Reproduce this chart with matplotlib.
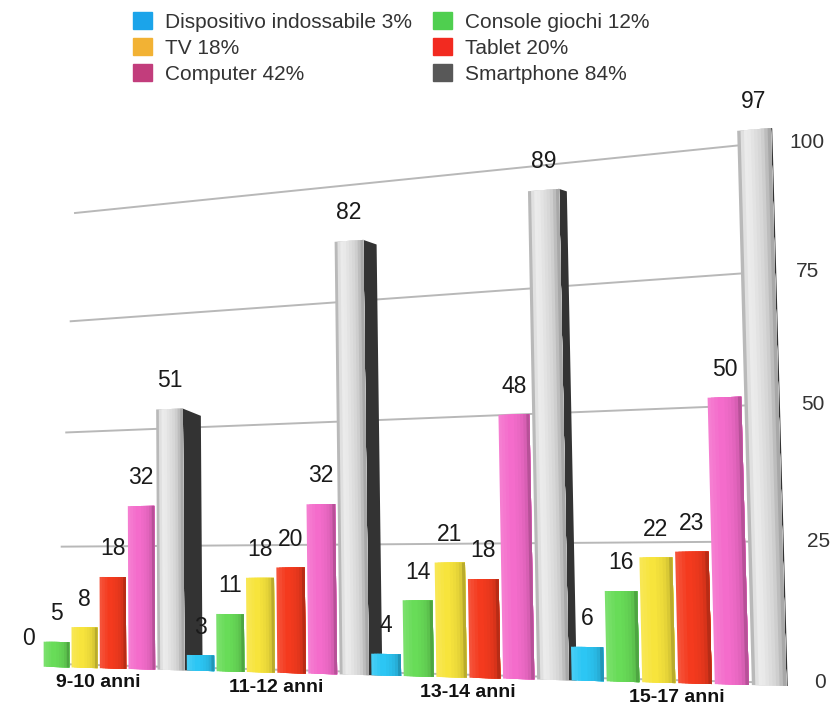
import numpy as np
import matplotlib
matplotlib.use('Agg')
from matplotlib import pyplot as plt
from matplotlib.transforms import Transform
from matplotlib.patches import Patch
import matplotlib.colors as mcolors

plt.rcParams['font.family'] = ['Liberation Sans', 'DejaVu Sans']

groups = ['9-10 anni', '11-12 anni', '13-14 anni', '15-17 anni']
devices = ['Dispositivo indossabile', 'Console giochi', 'TV', 'Tablet', 'Computer', 'Smartphone']
totals = [3, 12, 18, 20, 42, 84]

wearable = [0, 3, 4, 6]
console = [5, 11, 14, 16]
tv = [8, 18, 21, 22]
tablet = [18, 20, 18, 23]
computer = [32, 32, 48, 50]
smartphone = [51, 82, 89, 97]
series = [wearable, console, tv, tablet, computer, smartphone]

axis_ticks = [0, 25, 50, 75, 100]

bar_colors = ['#2cc6f4', '#68dc58', '#f7e43c', '#f43a1e', '#f46ccb', '#d2d2d2']
legend_colors = ['#1ba4ea', '#4fcf4f', '#f2b234', '#f22a20', '#c23d7c', '#585858']


def homography(src, dst):
  A, b = [], []
  for (u, v), (x, y) in zip(src, dst):
    A.append([u, v, 1, 0, 0, 0, -u * x, -v * x]); b.append(x)
    A.append([0, 0, 0, u, v, 1, -u * y, -v * y]); b.append(y)
  h = np.linalg.solve(np.array(A, float), np.array(b, float))
  return np.append(h, 1).reshape(3, 3)


class Perspective(Transform):
  input_dims = output_dims = 2
  is_separable = False
  has_inverse = True

  def __init__(self, M):
    super().__init__()
    self.M = M

  def transform_non_affine(self, values):
    values = np.asarray(values, float).reshape(-1, 2)
    p = np.column_stack([values, np.ones(len(values))]) @ self.M.T
    return p[:, :2] / p[:, 2:]

  def inverted(self):
    return Perspective(np.linalg.inv(self.M))


def shade(color, k):
  rgb = np.array(mcolors.to_rgb(color))
  if k >= 0:
    return tuple(rgb + (1 - rgb) * k)
  return tuple(rgb * (1 + k))


fig = plt.figure(figsize=(8.31, 7.06), dpi=100)
ax = fig.add_axes([0, 0, 1, 1])
ax.set_xlim(0, 831)
ax.set_ylim(706, 0)
ax.set_autoscale_on(False)
ax.axis('off')

# back wall (s from 0 to 1, value 0..100) and bar plane (slot index, value)
wall = Perspective(homography([(0, 0), (0, 100), (1, 0), (1, 100)],
                              [(57, 664), (75, 213), (786, 683), (762, 143)])) + ax.transData
nslots = 6 * len(groups)
front = Perspective(homography([(0, 0), (0, 100), (nslots, 0), (nslots, 100)],
                               [(15, 666), (15, 176), (788, 686), (772, 111)])) + ax.transData

for t in axis_ticks:
  ax.plot([0, 1], [t, t], color='#b8b8b8', lw=1.4, transform=wall, zorder=1)
  ax.annotate(str(t), (1, t), xycoords=wall, xytext=(20, 0), textcoords='offset points',
              ha='left', va='center', fontsize=15, color='#333333')

# left-to-right shading across each bar, drawn as overlapping strips
colored_profile = [0.12, 0.08, 0.04, 0.0, 0.0, -0.02, -0.04, -0.07, -0.12, -0.25]
grey_profile = [-0.12, 0.3, 0.55, 0.5, 0.38, 0.25, 0.1, -0.02, -0.1, -0.2]
width = 0.92
nstrip = len(colored_profile)

for g in range(len(groups)):
  for s, vals in enumerate(series):
    v = vals[g]
    left = g * 6 + s + (1 - width) / 2
    is_phone = s == len(series) - 1
    if is_phone:
      side = 0.032 * (nslots + 1 - (left + width))
      ax.fill([left + width, left + width, left + width + side, left + width + side],
              [0, v, v - 2.5 * side, 0], color='#333333', lw=0, transform=front, zorder=2)
    prof = grey_profile if is_phone else colored_profile
    if v > 0:
      edges = left + width * np.arange(nstrip) / nstrip
      ax.bar(edges, [v] * nstrip, width=left + width - edges, align='edge',
             color=[shade(bar_colors[s], k) for k in prof], lw=0,
             transform=front, zorder=2)
    ax.annotate(str(v), (left + width / 2, v), xycoords=front, xytext=(0, 12),
                textcoords='offset points', ha='center', va='bottom',
                fontsize=16.5, color='#1a1a1a', zorder=10)
  ax.annotate(groups[g], (g * 6 + 3, 0), xycoords=front, xytext=(0, -10.5),
              textcoords='offset points', ha='center', va='center',
              fontsize=14, fontweight='bold', color='#111111', zorder=10)

order = [0, 2, 4, 1, 3, 5]
handles = [Patch(color=legend_colors[i]) for i in order]
labels = ['%s %d%%' % (devices[i], totals[i]) for i in order]
fig.legend(handles, labels, ncol=2, loc='upper left', bbox_to_anchor=(133 / 831, 1 - 12 / 706),
           frameon=False, fontsize=15, handlelength=0.9, handleheight=0.9,
           handletextpad=0.65, columnspacing=1.0, labelspacing=0.29,
           borderpad=0, borderaxespad=0, labelcolor='#333333')

fig.savefig('out.png', dpi=100)
